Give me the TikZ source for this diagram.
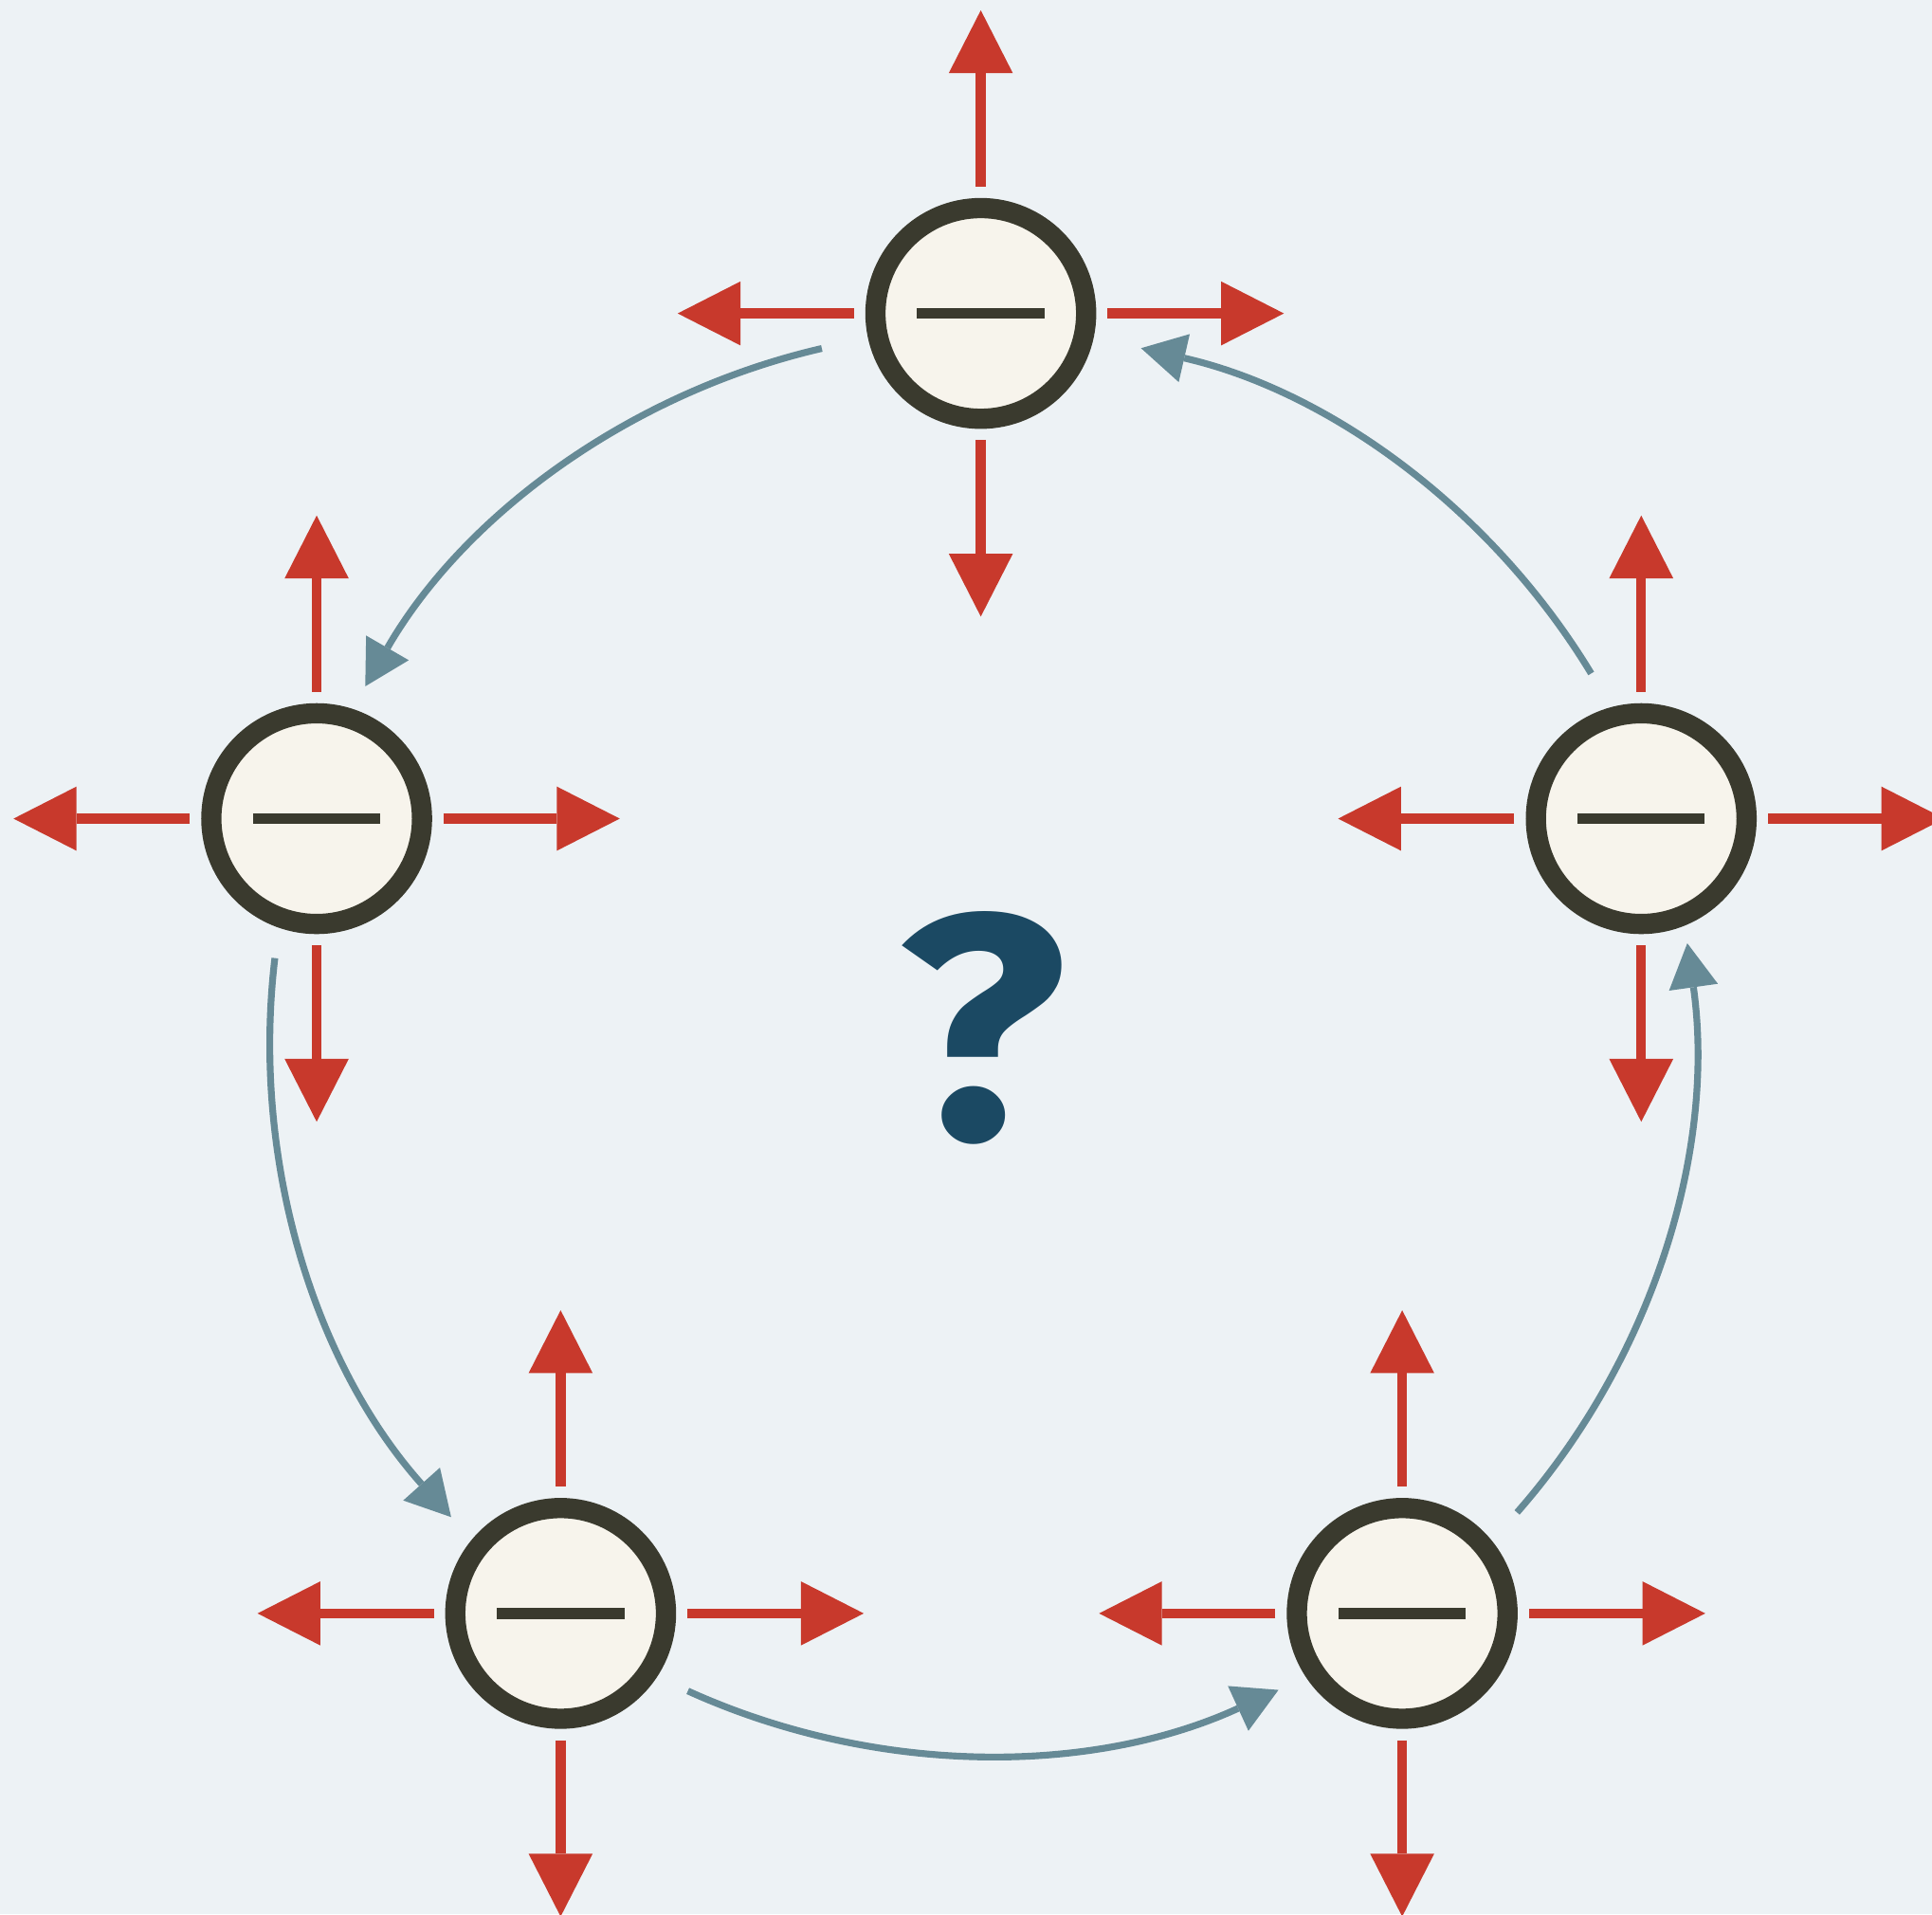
\documentclass[tikz,border=0pt]{standalone}
\usepackage{fontspec}
\newfontfamily\qfont{Fira Sans}
\usetikzlibrary{arrows.meta}

\begin{document}
\begin{tikzpicture}[
        charge/.style={circle, draw=edge, fill=cream, line width=0.164cm, minimum size=1.71cm, inner sep=0pt},
        bar/.style={draw=edge, line width=0.087cm},
        push/.style={draw=redarrow, line width=0.08cm, -{Triangle[width=0.52cm, length=0.51cm, line width=0pt]}},
        hop/.style={draw=bluearrow, line width=0.055cm, -{Triangle[width=0.40cm, length=0.36cm, line width=0pt]}}
    ]
        \definecolor{bg}{RGB}{237, 242, 245}
        \definecolor{edge}{RGB}{58, 58, 46}
        \definecolor{cream}{RGB}{247, 244, 236}
        \definecolor{redarrow}{RGB}{200, 57, 44}
        \definecolor{bluearrow}{RGB}{102, 138, 150}
        \definecolor{qblue}{RGB}{27, 73, 99}
        \path[use as bounding box, fill=bg] (0, 0) rectangle (15.68, 15.534);

        \node[charge] (qtop) at (7.96, 12.99){};
        \node[charge] (qleft) at (2.57, 8.89){};
        \node[charge] (qright) at (13.32, 8.89){};
        \node[charge] (qbotl) at (4.55, 2.44){};
        \node[charge] (qbotr) at (11.38, 2.44){};
        \coordinate (mid) at (7.97, 7.074);

        \foreach \n in {qtop, qleft, qright, qbotl, qbotr}{
            \draw[bar] ([xshift=-0.517cm]\n.center) -- ([xshift=0.517cm]\n.center);
            \foreach \a in {0, 90, 180, 270}
                \draw[push] (\n.center) ++(\a:1.03) -- ++(\a:1.43);
        }

        \draw[hop] (mid) ++(103:5.78) arc[start angle=103, end angle=150, radius=5.78];
        \draw[hop] (mid) ++(173.2:5.78) arc[start angle=173.2, end angle=221.8, radius=5.78];
        \draw[hop] (mid) ++(245.6:5.78) arc[start angle=245.6, end angle=294.6, radius=5.78];
        \draw[hop] (mid) ++(318.7:5.78) arc[start angle=318.7, end angle=368, radius=5.78];
        \draw[hop] (mid) ++(31.2:5.78) arc[start angle=31.2, end angle=77.1, radius=5.78];

        \node[text=qblue, xscale=1.1, transform shape] (ask) at (7.97, 7.19){\qfont\bfseries\fontsize{74}{74}\selectfont ?};
    \end{tikzpicture}
\end{document}
